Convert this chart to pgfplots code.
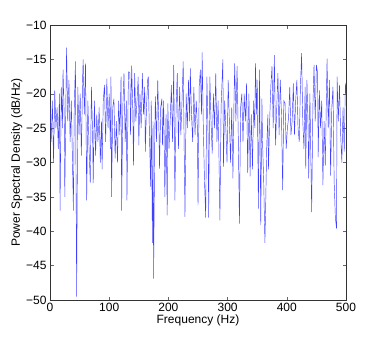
\documentclass[border=0pt]{standalone}
\usepackage{fontspec}
\setmainfont{Liberation Sans}
\usepackage{pgfplots}
\pgfplotsset{compat=1.18}
\usepackage{pgfplotstable}

% estimated PSD (dB/Hz)
\pgfplotstableread{
f psd
0 -21.5
2 -27
4 -21
6 -30
8 -19.5
10 -25
12 -22
14 -28
16 -20
17 -37
19 -19
21 -25
22 -16.5
24 -23
25 -35
27 -20
28 -13.3
30 -24
32 -18
34 -27
36 -21
38 -30
39.5 -37
41 -22
43 -15.3
45 -49.5
47 -19
49 -26
51 -20
53 -29
55 -18
56 -15
58 -23
60 -15.6
62 -35.5
64 -21
66 -28
68 -33
70 -19
72 -26
73 -33
75 -21
77 -29
79 -23
81 -27
83 -22
85 -30
87 -24
88 -31
90 -21
92 -18.7
94 -27
96 -17.8
98 -25
100 -20
102 -28
103 -17.5
104 -35
106 -22
108 -20.7
110 -29.4
112 -24
114 -30
116 -21
118 -26
120 -17.5
121 -37
123 -22
125 -17
127 -27
129 -21
130 -35.5
132 -20
133 -16.8
135 -17
136 -26
138 -15.9
140 -23
141 -30.4
143 -17
145 -24
147 -21
149 -17.5
150 -27.5
152 -20
154 -25
156 -17
158 -23
160 -19
161 -28.4
163 -22
165 -18
166 -17.5
168 -26
170 -33.5
171 -21
173 -41.7
174 -24
175 -46.9
177 -26
178 -20.4
180 -27
182 -18
184 -25
185 -30.9
187 -22
189 -20.7
190 -27.5
192 -21
194 -35
196 -23
198 -37.7
199 -21.4
201 -28
203 -24
205 -18.7
207 -27
209 -15.8
211 -35.5
213 -22
215 -17
217 -28
219 -19
221 -26
223 -21
225 -15.3
228 -37.9
230 -20
232 -25
234 -18
236 -24
237 -16.3
239 -23
241 -27
243 -19
245 -26
247 -21
249 -25
250 -36.2
252 -19
254 -16.5
256 -23
257 -14
259 -25
261 -32.8
263 -38
265 -17.5
267 -26
268 -38
270 -17.5
272 -24
274 -28.7
276 -20
278 -25
280 -17
282 -27
284 -21
287 -38.4
289 -22
292 -15
293 -30.6
295 -21
297 -25
299 -30
301 -18
303 -24
305 -30
307 -22
309 -32.3
311 -20
312 -15.6
314 -24
316 -16
318 -26
320 -38.9
322 -22
324 -20
326 -27
328 -20
330 -24
332 -18.5
334 -31.5
336 -20
338 -32
340 -23
342 -31
344 -21
346 -25
347 -15.6
349 -23
350 -18
352 -36.7
354 -16.5
356 -39.1
358 -20.7
359 -27
361 -32.8
363 -41.7
364 -37.7
366 -28
368 -23
369 -31
371 -24
373 -19
375 -16
377 -25
379 -14.4
381 -27.5
383 -22
385 -17
387 -26
389 -18
391 -23
393 -34
395 -21
397 -21.4
399 -28
401 -25
403 -23.5
405 -19
407 -26
409 -24
411 -18.5
413 -26
415 -21
417 -18
419 -25
421 -27
423 -19
425 -14.1
427 -24
429 -28
431 -19
432 -30.9
434 -18
436 -25
437 -32.3
439 -20
442 -37.2
444 -22
446 -15.8
448 -24
450 -15.8
452 -17
453 -29.2
455 -19.5
457 -25
459 -21
461 -33.3
463 -24
465 -30.4
467 -20
468 -14.9
470 -25
472 -18
474 -31.9
476 -22
478 -19
480 -32.8
482 -38
484 -39.6
485 -17.5
487 -24
489 -18.7
491 -26
493 -30
495 -22
497 -28.4
499 -18.5
500 -20
}\psddata

\begin{document}
\begin{tikzpicture}
\begin{axis}[
    scale only axis,
    width=296pt, height=275pt,
    xmin=0, xmax=500, ymin=-50, ymax=-10,
    xtick={0,100,...,500},
    ytick={-50,-45,...,-10},
    yticklabels={−50,−45,−40,−35,−30,−25,−20,−15,−10},
    /pgf/number format/assume math mode=true,
    tick align=inside,
    major tick length=3.5pt,
    tick style={black!60, line width=0.5pt},
    axis line style={black!80, line width=0.6pt},
    ticklabel style={font=\fontsize{12}{14}\selectfont},
    label style={font=\fontsize{12}{14}\selectfont},
    xlabel={Frequency (Hz)},
    ylabel={Power Spectral Density (dB/Hz)},
    xlabel style={yshift=4pt},
    ylabel style={yshift=-3pt},
]
\addplot[blue!75, line width=0.45pt] table[x=f, y=psd] {\psddata};
\end{axis}
\pgfresetboundingbox
\path[use as bounding box] ([xshift=-50pt,yshift=-38pt]current axis.south west) rectangle ([xshift=36pt,yshift=25pt]current axis.north east);
\end{tikzpicture}
\end{document}
